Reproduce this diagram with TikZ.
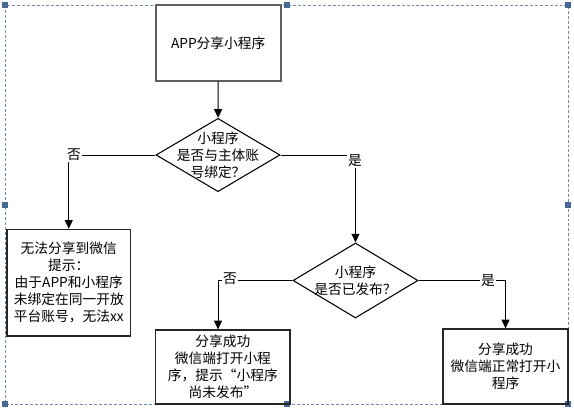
\documentclass[tikz,border=0pt]{standalone}
\usepackage{fontspec}
\setmainfont{Noto Sans CJK SC}
\usetikzlibrary{shapes.geometric,arrows.meta}

\definecolor{selframe}{RGB}{112,140,180}
\definecolor{selhandle}{RGB}{72,104,150}
\definecolor{boxgray}{RGB}{95,95,95}

\tikzset{every picture/.style={line width=0.75pt},
  txt/.style={font=\fontsize{10.3pt}{12.8pt}\selectfont, align=center, inner sep=0pt},
  box/.style={draw=black!85, line width=1pt, rectangle, txt},
  dia/.style={draw, diamond, inner sep=0pt, line width=0.8pt},
  lbl/.style={txt, fill=white, inner sep=1pt},
  flow/.style={-{Triangle[length=6.5pt,width=6pt]}}}

\begin{document}
\begin{tikzpicture}[x=0.75pt,y=0.75pt,yscale=-1,xscale=1]
\useasboundingbox (0,0) rectangle (574,410);

%Shape: Selection frame
\draw [selframe, line width=0.6pt, dash pattern=on 2.2pt off 1.5pt] (5,5) rectangle (568,404);
\foreach \hx/\hy in {5/5, 286.5/5, 568/5, 5/204.5, 568/204.5, 5/404, 286.5/404, 568/404}
  \fill [selhandle] (\hx-3,\hy-3) rectangle (\hx+3,\hy+3);

%Shape: Rectangle [start]
\node [box, draw=boxgray, line width=1.5pt, minimum width=93.75pt, minimum height=56.5pt] (app) at (218.2,43) {APP分享小程序};

%Shape: Diamond [bound]
\node [dia, minimum width=93pt, minimum height=55pt] (bound) at (218,155) {};
% Text Node
\node [txt] at (bound) {小程序\\是否与主体账\\号绑定？};

%Shape: Rectangle [fail]
\node [box, minimum width=92.8pt, minimum height=80pt] (fail) at (68.8,282.7) {无法分享到微信\\提示：\\由于APP和小程序\\未绑定在同一开放\\平台账号，无法xx};

%Shape: Diamond [published]
\node [dia, minimum width=93.75pt, minimum height=56.25pt] (published) at (355.5,280.5) {};
% Text Node
\node [txt] at (published) {小程序\\是否已发布？};

%Shape: Rectangle [notpub]
\node [box, minimum width=100.7pt, minimum height=55.5pt] (notpub) at (222.9,367) {分享成功\\微信端打开小程\\序，提示“小程序\\尚未发布”};

%Shape: Rectangle [ok]
\node [box, minimum width=93.75pt, minimum height=56.25pt] (ok) at (505.5,366.5) {分享成功\\微信端正常打开小\\程序};

%Straight Lines
\draw [flow] (app) -- (bound);
\draw [flow] (bound.west) -| (fail.north);
\draw [flow] (bound.east) -| (published.north);
\draw [flow] (published.west) -| (bound.south |- notpub.north);
\draw [flow] (published.east) -| (ok.north);

% Text Node
\node [lbl] (no1) at (74,155) {否};
% Text Node
\node [lbl] (yes1) at (355,161) {是};
% Text Node
\node [lbl] (no2) at (230,279) {否};
% Text Node
\node [lbl] (yes2) at (488,280.7) {是};

\end{tikzpicture}
\end{document}
